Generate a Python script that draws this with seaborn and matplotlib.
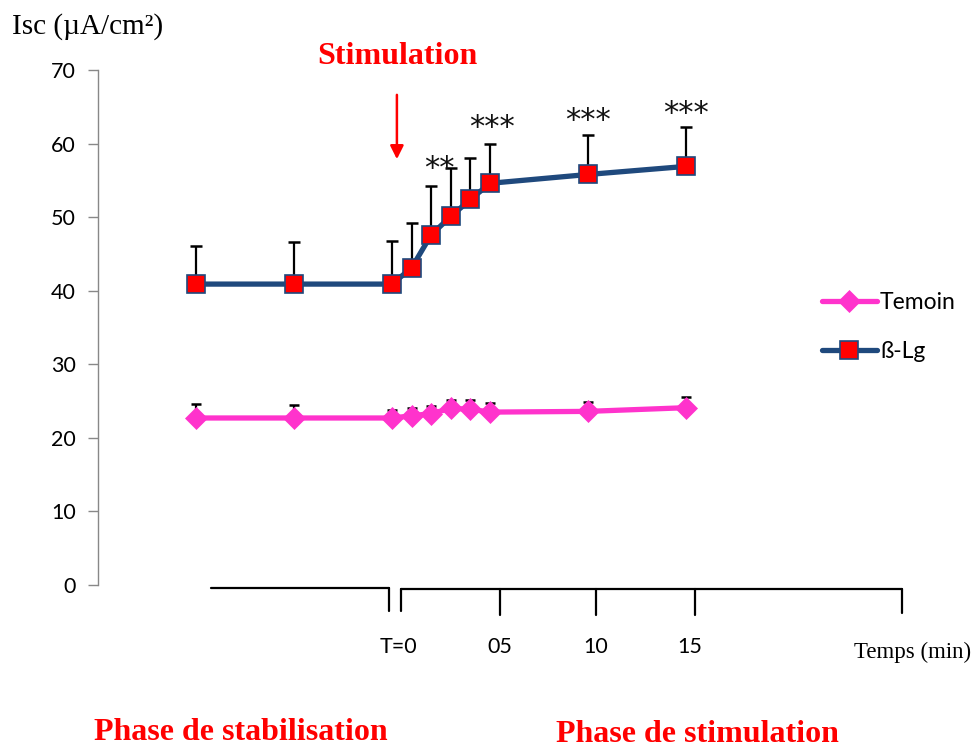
import matplotlib
matplotlib.use("Agg")
import matplotlib.pyplot as plt
from matplotlib.lines import Line2D
import seaborn as sns
import pandas as pd

# ---- data ----
time_idx = [0, 1, 2, 2.2, 2.4, 2.6, 2.8, 3.0, 4, 5]
temoin = [22.7, 22.7, 22.7, 23.0, 23.3, 24.0, 23.9, 23.5, 23.6, 24.1]
temoin_err = [1.9, 1.8, 1.1, 1.1, 1.0, 1.1, 1.3, 1.3, 1.3, 1.4]
blg = [40.9, 40.9, 40.9, 43.1, 47.6, 50.1, 52.4, 54.6, 55.8, 56.9]
blg_err = [5.2, 5.7, 5.8, 6.1, 6.7, 6.6, 5.7, 5.4, 5.3, 5.4]
series_names = ["Temoin", "ß-Lg"]
yticks = [0, 10, 20, 30, 40, 50, 60, 70]
star_labels = ["**", "***", "***", "***"]
star_x = [2.48, 3.02, 4.0, 5.0]
star_y = [56.6, 62.2, 63.2, 64.1]
time_tick_labels = ["T=0", "05", "10", "15"]

W, H = 977, 751
def fx(x):
    return x / W
def fy(y):
    return 1 - y / H

sns.set_theme(style="white")
plt.rcParams["font.family"] = ["Lato", "DejaVu Sans"]

fig = plt.figure(figsize=(W / 100, H / 100), dpi=100)
ax = fig.add_axes([fx(98), fy(585), fx(784) - fx(98), fy(70) - fy(585)])

df = pd.DataFrame({
    "t": time_idx * 2,
    "Isc": temoin + blg,
    "serie": [series_names[0]] * len(temoin) + [series_names[1]] * len(blg),
})

pink = "#FF33CC"
navy = "#1F497D"

# error bars (upper only)
ax.errorbar(time_idx, temoin, yerr=[[0] * len(temoin), temoin_err], fmt="none",
            ecolor="black", elinewidth=1.6, capsize=3.6, capthick=1.8, zorder=1)
ax.errorbar(time_idx, blg, yerr=[[0] * len(blg), blg_err], fmt="none",
            ecolor="black", elinewidth=1.6, capsize=4.3, capthick=1.8, zorder=1)

sns.lineplot(data=df[df.serie == series_names[0]], x="t", y="Isc", ax=ax,
             color=pink, linewidth=3.8, marker="D", markersize=11.5,
             markerfacecolor=pink, markeredgecolor=pink, markeredgewidth=0.5,
             label=series_names[0], zorder=3)
sns.lineplot(data=df[df.serie == series_names[1]], x="t", y="Isc", ax=ax,
             color=navy, linewidth=3.8, marker="s", markersize=13.5,
             markerfacecolor="#FF0000", markeredgecolor=navy, markeredgewidth=1.2,
             label=series_names[1], zorder=4)

ax.set_xlim(-1.0, 6.0)
ax.set_ylim(0, 70)
ax.set_yticks(yticks)
ax.set_yticklabels([str(v) for v in yticks], fontsize=15.5, color="black")
ax.set_xticks([])
ax.set_xlabel("")
ax.set_ylabel("")
for s in ["top", "right", "bottom"]:
    ax.spines[s].set_visible(False)
ax.spines["left"].set_color("#888888")
ax.spines["left"].set_linewidth(1.0)
ax.tick_params(axis="y", left=True, length=7, width=1.0, color="#888888", pad=9)

# legend
leg = ax.legend(loc="center left", bbox_to_anchor=(fx(801), fy(327)),
                bbox_transform=fig.transFigure, frameon=False, fontsize=16.5,
                handlelength=2.4, labelspacing=1.2, handletextpad=0.15)
for t in leg.get_texts():
    t.set_color("black")

# significance stars
for lab, sx, sy in zip(star_labels, star_x, star_y):
    ax.text(sx, sy, lab, ha="center", va="center", fontsize=22,
            family="DejaVu Sans", color="#111111")

# stimulation arrow and title
ax.annotate("", xy=(2.05, 57.5), xytext=(2.05, 67.0),
            arrowprops=dict(arrowstyle="-|>", color="red", lw=1.8,
                            mutation_scale=20), annotation_clip=False)
fig.text(fx(397), fy(56), "Stimulation", ha="center", va="center",
         fontsize=23, fontweight="bold", color="red", family="Liberation Serif")

# y-axis title
fig.text(fx(12), fy(27), "Isc (\u00b5A/cm\u00b2)", ha="left", va="center",
         fontsize=21, color="black", family="Liberation Serif")

# timeline below the axis
lw = 1.6
def seg(x0, y0, x1, y1):
    fig.add_artist(Line2D([fx(x0), fx(x1)], [fy(y0), fy(y1)],
                          transform=fig.transFigure, color="black", lw=lw))
seg(211, 588, 389, 588)
seg(389, 588, 389, 611)
seg(401, 589, 902, 589)
seg(401, 589, 401, 611)
for tx in [500, 596, 695]:
    seg(tx, 589, tx, 615)
seg(902, 589, 902, 613)

for lab, tx in zip(time_tick_labels, [398, 500, 596, 690]):
    fig.text(fx(tx), fy(647), lab, ha="center", va="center", fontsize=15.5,
             color="black")
fig.text(fx(913), fy(652), "Temps (min)", ha="center", va="center",
         fontsize=16.5, family="Liberation Serif", color="black")

fig.text(fx(241), fy(733), "Phase de stabilisation", ha="center", va="center",
         fontsize=23, fontweight="bold", color="red", family="Liberation Serif")
fig.text(fx(697), fy(735), "Phase de stimulation", ha="center", va="center",
         fontsize=23, fontweight="bold", color="red", family="Liberation Serif")

fig.savefig("out.png", dpi=100)
